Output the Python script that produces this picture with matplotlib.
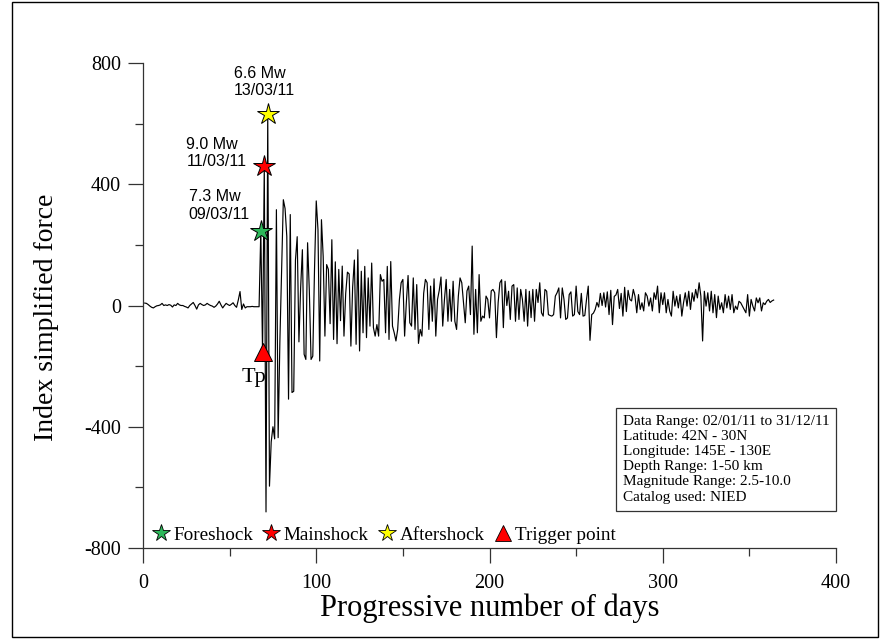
import numpy as np
import matplotlib
matplotlib.use("Agg")
import matplotlib.pyplot as plt
from matplotlib.lines import Line2D
from matplotlib.patches import Rectangle
from matplotlib.ticker import MultipleLocator

plt.rcParams["axes.unicode_minus"] = False

SERIF = "Liberation Serif"
SANS = "Liberation Sans"

# Daily index of simplified force, 2011 (day 1 = 02/01/11)
pre_event = [
    8, 7, 3, -2, -6, -8, -4, -1, 0, 2,
    7, 0, 2, 0, 3, 1, -5, 2, 0, 7,
    2, 0, 0, -3, -5, -8, 0, 5, 10, 0,
    -12, 2, 7, 3, 0, 2, 7, 3, 0, -2,
    -6, -2, 5, 14, 2, -8, 0, 7, 3, 0,
    4, 9, 0, -6, 18, 46, -13, 5, -8, -4,
    -4, -4, -3, -4, -4, -4, -4,
]
main_sequence = [
    247, -155, 460, -681, 632, -596, -450, -400, -440, 316,
    -436, -120, 120, 349, 320, 228, -309, 300, -287, -283,
    150, 227, -120, 60, 184, -161, -178, 207, 50, -178,
    -167, 120, 345, 250, -183, 283, 162, -101, 135, 119,
    -60, 217, -112, 144, -126, 119, -50, 130, -101, 40,
    110, 104, -134, 60, 150, -128, 184,
]
decay_early = [
    -150, 113, -90, 129, -106, 91, -68, 140, -73, -101,
    -63, -101, 102, 80, 86, -90, 129, -112, 145, -68,
    -90, -117, -79, 20, 75, 86, -101, 10, 99, -57,
    -68, 91, -79, 69, -125, -79, -101, 40, 86, 75,
    -79, 64, -52, 88, -101, 20, 50, 94, -68, 20,
    86, -52, 53, -52, 80, -52, -79, 30, 91, 75,
    10, -57, 48, 64, -30, 196, -95, 53, -90, 102,
    -52, -35, -41, 31, 20, -41, 48, 53,
]
decay_mid = [
    42, -106, 10, 75, 85, -73, 80, 0, 47, -46,
    64, 69, -52, 58, -46, 53, 20, -52, 53, -68,
    47, -40, 53, -52, 53, 10, 75, -24, -35, 53,
    47, -30, -33, -35, -30, 31, 42, 58, -41, 58,
    20, -46, -41, 36, 45, -35, -30, 64, -20, -30,
    40, -35, -33, 20, 64, -115, -30, -25, -13, 10,
    -5, 40, 0, 42, -5, 45, -30, 50, -63, 30,
    35, 53, -10, 40, -35, 60, -20, 50, 20, 15, 53,
]
decay_late = [
    30, -24, 36, -13, 9, -18, 42, 31, -2, 25,
    -18, 42, 20, 64, -24, 42, 3, 42, -24, 20,
    -18, -35, 47, -2, 31, -8, 36, -35, 9, 42,
    -2, 47, -13, 42, 14, 53, 25, 75, 31, -117,
    47, -2, 42, -18, 47, -24, 36, -40, 31, -13,
    9, -24, 36, -8, 31, -13, 36, -24, -2, -13,
    14, 9, -2, -13, -24, 36, -35, 20, -2, -18,
    25, 9, 25, -18, 9, 3, 14, 20, 10, 15, 18,
]

force = np.array(pre_event + main_sequence + decay_early + decay_mid + decay_late, dtype=float)
days = np.arange(1, len(force) + 1)

# Labelled events
event_days = [68, 70, 72]
event_names = ["Foreshock", "Mainshock", "Aftershock"]
event_mw = ["7.3", "9.0", "6.6"]
event_dates = ["09/03/11", "11/03/11", "13/03/11"]
event_colors = ["#2db85a", "#ff0000", "#ffff00"]
event_text_offsets = [(-72, 25), (-78, 13), (-34, 32)]  # pixels
trigger_day = 69
trigger_color = "#ff0000"

x_ticks = [0, 100, 200, 300, 400]
y_ticks = [-800, -400, 0, 400, 800]

info_lines = [
    "Data Range: 02/01/11 to 31/12/11",
    "Latitude: 42N - 30N",
    "Longitude: 145E - 130E",
    "Depth Range: 1-50 km",
    "Magnitude Range: 2.5-10.0",
    "Catalog used: NIED",
]

W, H = 880, 639
fig = plt.figure(figsize=(W / 100, H / 100), dpi=100)
ax = fig.add_axes([143 / W, 1 - 548 / H, (836 - 143) / W, (548 - 63) / H])

ax.plot(days, force, color="black", lw=0.85, zorder=2)

def value_at(d):
    return force[d - 1]

for d, c, mw, dt, off in zip(event_days, event_colors, event_mw, event_dates, event_text_offsets):
    ax.plot([d], [value_at(d)], marker="*", ms=16, mfc=c, mec="black", mew=0.7,
            linestyle="none", zorder=4)
    ax.annotate(f"{mw} Mw\n{dt}", xy=(d, value_at(d)), xytext=off,
                textcoords="offset pixels", ha="left", va="center",
                fontsize=11.5, family=SANS, zorder=5)

ax.plot([trigger_day], [value_at(trigger_day)], marker="^", ms=13, mfc=trigger_color,
        mec="black", mew=0.7, linestyle="none", zorder=4)
ax.annotate("Tp", xy=(trigger_day, value_at(trigger_day)), xytext=(-9, -25),
            textcoords="offset pixels", ha="center", va="center",
            fontsize=16, family=SERIF)

ax.set_xlim(0, 400)
ax.set_ylim(-800, 800)
ax.set_xticks(x_ticks)
ax.set_yticks(y_ticks)
ax.xaxis.set_minor_locator(MultipleLocator(50))
ax.yaxis.set_minor_locator(MultipleLocator(200))
for s in ["top", "right"]:
    ax.spines[s].set_visible(False)
for s in ["left", "bottom"]:
    ax.spines[s].set_color("#333333")
    ax.spines[s].set_linewidth(0.9)
ax.tick_params(which="major", direction="out", length=11, width=0.9, color="#333333",
               labelsize=14.5, pad=5)
ax.tick_params(axis="x", which="major", pad=8)
ax.tick_params(which="minor", direction="out", length=5.5, width=0.9, color="#333333")
for lbl in ax.get_xticklabels() + ax.get_yticklabels():
    lbl.set_family(SERIF)

ax.set_xlabel("Progressive number of days", family=SERIF, fontsize=22, labelpad=0)
ax.set_ylabel("Index simplified force", family=SERIF, fontsize=20)
ax.yaxis.set_label_coords(-0.121, 0.476)

ax.text(0.6926, 0.275, "\n".join(info_lines), transform=ax.transAxes, ha="left", va="top",
        fontsize=11, family=SERIF, linespacing=1.22,
        bbox=dict(boxstyle="square,pad=0.45", fc="white", ec="#333333", lw=0.9))

handles = [Line2D([], [], marker="*", linestyle="none", ms=13, mfc=c, mec="black", mew=0.6)
           for c in event_colors]
handles.append(Line2D([], [], marker="^", linestyle="none", ms=12, mfc=trigger_color,
                      mec="black", mew=0.6))
ax.legend(handles, event_names + ["Trigger point"], loc="center left",
          bbox_to_anchor=(0.0144, 0.027), ncol=4, frameon=False, borderpad=0,
          borderaxespad=0, handlelength=0.8, handletextpad=0.25, columnspacing=0.55,
          prop={"family": SERIF, "size": 13.8})

fig.add_artist(Rectangle((12 / W, 2 / H), (878 - 12) / W, (637 - 2) / H,
                         transform=fig.transFigure, fill=False, ec="black", lw=1))

fig.savefig("out.png", dpi=100)
